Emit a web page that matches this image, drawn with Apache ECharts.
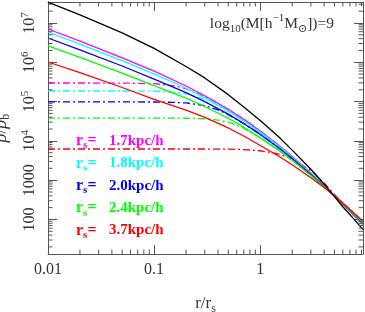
<!DOCTYPE html>
<html><head><meta charset="utf-8">
<script src="https://cdn.jsdelivr.net/npm/echarts@6/dist/echarts.min.js"></script>
<style>html,body{margin:0;padding:0;background:#fff}#c{width:365px;height:312px}</style>
</head><body><div id="c"></div>
<script>
const xMin = 0.01, xMax = 9.3, yMin = 13.2, yMax = 3.42e7;
const xTickValues = [0.01, 0.1, 1];
const xTickLabels = ['0.01', '0.1', '1'];
const yTickValues = [100, 1000, 1e4, 1e5, 1e6, 1e7];
const yTickLabels = ['100', '1000', '10^4', '10^5', '10^6', '10^7'];

const rSolid = [0.01, 0.02, 0.05, 0.1, 0.2, 0.3, 0.5, 0.7, 1, 1.5, 2, 3, 4, 5, 6, 7.5, 9.3];
const rhoBlack   = [3.4e7, 1.61e7, 5.6e6, 2.25e6, 7.8e5, 4.0e5, 1.5e5, 7.3e4, 3.3e4, 1.25e4, 5800, 1900, 800, 380, 210, 108, 55];
const rhoMagenta = [7.03e6, 3.45e6, 1.30e6, 5.93e5, 2.49e5, 1.41e5, 6.37e4, 3.54e4, 1.79e4, 7650, 3980, 1490, 717, 398, 244, 132, 72.7];
const rhoCyan    = [5.90e6, 2.91e6, 1.10e6, 5.05e5, 2.18e5, 1.26e5, 5.78e4, 3.26e4, 1.67e4, 7280, 3830, 1460, 711, 398, 245, 135, 74.3];
const rhoBlue    = [4.15e6, 2.08e6, 8.04e5, 3.74e5, 1.69e5, 1.00e5, 4.80e4, 2.77e4, 1.46e4, 6560, 3550, 1400, 700, 399, 249, 139, 77.8];
const rhoGreen   = [2.60e6, 1.33e6, 5.31e5, 2.53e5, 1.22e5, 7.50e4, 3.75e4, 2.23e4, 1.21e4, 5730, 3200, 1320, 684, 400, 253, 143, 81.5];
const rhoRed     = [1.016e6, 5.42e5, 2.28e5, 1.13e5, 6.04e4, 3.95e4, 2.13e4, 1.33e4, 7640, 4060, 2470, 1150, 647, 402, 261, 152, 89.3];

const rCore = [0.01, 0.05, 0.1, 0.15, 0.2, 0.3, 0.4, 0.5, 0.7, 1, 1.5, 2, 3, 4, 5, 6, 7.5, 9.3];
const coreMagenta = [2.97e5, 2.96e5, 2.855e5, 2.56e5, 2.13e5, 1.363e5, 9.06e4, 6.35e4, 3.54e4, 1.79e4, 7650, 3980, 1490, 717, 398, 244, 132, 72.7];
const coreCyan    = [1.86e5, 1.857e5, 1.83e5, 1.74e5, 1.583e5, 1.152e5, 8.03e4, 5.72e4, 3.25e4, 1.67e4, 7280, 3830, 1460, 711, 398, 245, 135, 74.3];
const coreBlue    = [9.8e4, 9.8e4, 9.74e4, 9.58e4, 9.23e4, 7.85e4, 6.12e4, 4.63e4, 2.75e4, 1.46e4, 6560, 3550, 1400, 700, 399, 249, 139, 77.8];
const coreGreen   = [3.8e4, 3.8e4, 3.8e4, 3.8e4, 3.76e4, 3.65e4, 3.39e4, 3.0e4, 2.10e4, 1.197e4, 5730, 3200, 1320, 684, 400, 253, 143, 81.5];
const coreRed     = [6200, 6200, 6200, 6200, 6200, 6200, 6180, 6150, 6000, 5600, 4600, 3500, 1750, 850, 430, 265, 152, 89.3];

const rsLabels = ['1.7kpc/h', '1.8kpc/h', '2.0kpc/h', '2.4kpc/h', '3.7kpc/h'];
const colors = ['#ff00ff', '#00ffff', '#0000ff', '#00ff00', '#ff0000'];
const solidSets = [rhoMagenta, rhoCyan, rhoBlue, rhoGreen, rhoRed];
const coreSets = [coreMagenta, coreCyan, coreBlue, coreGreen, coreRed];

const SERIF = "'Liberation Serif', 'DejaVu Serif', serif";
const AX = '#555';

function pairs(xs, ys) { return xs.map((x, i) => [x, ys[i]]); }
function matchTick(v, vals) {
  for (let i = 0; i < vals.length; i++) {
    if (Math.abs(Math.log10(v) - Math.log10(vals[i])) < 1e-3) return i;
  }
  return -1;
}

const series = [];
coreSets.forEach((d, i) => {
  series.push({
    type: 'line', data: pairs(rCore, d), showSymbol: false, symbol: 'none',
    smooth: false, silent: true,
    lineStyle: { color: colors[i], width: 1.3, type: [7, 3, 2, 3] }, z: 2
  });
});
solidSets.forEach((d, i) => {
  series.push({
    type: 'line', data: pairs(rSolid, d), showSymbol: false, symbol: 'none',
    smooth: false, silent: true,
    lineStyle: { color: colors[i], width: 1.3 }, z: 3
  });
});
series.push({
  type: 'line', data: pairs(rSolid, rhoBlack), showSymbol: false, symbol: 'none',
  smooth: false, silent: true,
  lineStyle: { color: '#000', width: 1.3 }, z: 4
});

// minor ticks (log decades) drawn through the axes' own scales
const minorData = [];
[-2, -1, 0].forEach(k => { for (let m = 2; m <= 9; m++) { const v = m * Math.pow(10, k); if (v > xMin && v < xMax) minorData.push([v, yMin, 0]); } });
for (let k = 1; k <= 7; k++) for (let m = 2; m <= 9; m++) { const v = m * Math.pow(10, k); if (v > yMin && v < yMax) minorData.push([xMin, v, 1]); }
const ML = 4.5;
series.push({
  type: 'custom', data: minorData, silent: true, clip: false, z: 5,
  encode: { x: 0, y: 1 },
  renderItem: function (params, api) {
    const t = api.value(2);
    const st = { stroke: AX, lineWidth: 1 };
    if (t === 0) {
      const v = api.value(0);
      const a = api.coord([v, yMin]), b = api.coord([v, yMax]);
      return { type: 'group', children: [
        { type: 'line', shape: { x1: a[0], y1: a[1], x2: a[0], y2: a[1] - ML }, style: st },
        { type: 'line', shape: { x1: b[0], y1: b[1], x2: b[0], y2: b[1] + ML }, style: st }
      ] };
    } else {
      const v = api.value(1);
      const a = api.coord([xMin, v]), b = api.coord([xMax, v]);
      return { type: 'group', children: [
        { type: 'line', shape: { x1: a[0], y1: a[1], x2: a[0] + ML, y2: a[1] }, style: st },
        { type: 'line', shape: { x1: b[0], y1: b[1], x2: b[0] - ML, y2: b[1] }, style: st }
      ] };
    }
  }
});

const baseAxis = {
  type: 'log', logBase: 10,
  axisLine: { show: true, lineStyle: { color: AX, width: 1 } },
  axisTick: { show: true, inside: true, length: 9, lineStyle: { color: AX, width: 1 } },
  splitLine: { show: false }, minorTick: { show: false }, minorSplitLine: { show: false }
};

const option = {
  animation: false,
  backgroundColor: '#fff',
  grid: { left: 48, right: 2, top: 2, bottom: 58, containLabel: false, outerBoundsMode: 'none' },
  xAxis: [
    Object.assign({}, baseAxis, {
      position: 'bottom', min: xMin, max: xMax,
      axisLabel: {
        show: true, margin: 8, color: '#333', fontFamily: SERIF, fontSize: 16,
        showMinLabel: true, showMaxLabel: false,
        formatter: function (v) { const i = matchTick(v, xTickValues); return i >= 0 ? xTickLabels[i] : ''; }
      },
      name: '{i|r}{n|/}{i|r}{s|s}', nameLocation: 'middle', nameGap: 39,
      nameTextStyle: { color: '#333', rich: {
        i: { fontFamily: SERIF, fontSize: 17, color: '#333', lineHeight: 22 },
        n: { fontFamily: SERIF, fontSize: 17, color: '#333', lineHeight: 22 },
        s: { fontFamily: SERIF, fontSize: 12, color: '#333', verticalAlign: 'bottom', lineHeight: 12 }
      } }
    }),
    Object.assign({}, baseAxis, { position: 'top', min: xMin, max: xMax, axisLabel: { show: false } })
  ],
  yAxis: [
    Object.assign({}, baseAxis, {
      position: 'left', min: yMin, max: yMax,
      axisLabel: {
        show: true, rotate: 90, margin: 8, color: '#333', fontFamily: SERIF, fontSize: 16,
        showMinLabel: false, showMaxLabel: false,
        formatter: function (v) {
          const i = matchTick(v, yTickValues);
          if (i < 0) return '';
          const t = yTickLabels[i];
          if (t.indexOf('^') >= 0) { const p = t.split('^'); return '{b|' + p[0] + '}{s|' + p[1] + '}'; }
          return '{b|' + t + '}';
        },
        rich: {
          b: { fontFamily: SERIF, fontSize: 16, color: '#333', lineHeight: 20 },
          s: { fontFamily: SERIF, fontSize: 11, color: '#333', verticalAlign: 'top', lineHeight: 11 }
        }
      },
      name: '{i|ρ}{n|/}{i|ρ}{s|b}', nameLocation: 'middle', nameGap: 27, nameRotate: 90,
      nameTextStyle: { color: '#333', rich: {
        i: { fontFamily: SERIF, fontSize: 18, fontStyle: 'italic', color: '#333', lineHeight: 22 },
        n: { fontFamily: SERIF, fontSize: 18, color: '#333', lineHeight: 22 },
        s: { fontFamily: SERIF, fontSize: 12, color: '#333', verticalAlign: 'bottom', lineHeight: 12 }
      } }
    }),
    Object.assign({}, baseAxis, { position: 'right', min: yMin, max: yMax, axisLabel: { show: false } })
  ],
  series: series,
  graphic: []
};

// annotation
option.graphic.push({
  type: 'text', x: 334, y: 24, silent: true, z: 10,
  style: {
    text: '{n|log}{sub|10}{n|(M[h}{sup|−1}{n|M}{sub|⊙}{n|])=9}',
    align: 'right', verticalAlign: 'middle', textAlign: 'right', textVerticalAlign: 'middle',
    fill: '#333', font: '15px ' + SERIF,
    rich: {
      n: { fontFamily: SERIF, fontSize: 15.5, fill: '#333', color: '#333', lineHeight: 22 },
      sub: { fontFamily: SERIF, fontSize: 11, fill: '#333', color: '#333', verticalAlign: 'bottom', lineHeight: 11 },
      sup: { fontFamily: SERIF, fontSize: 11, fill: '#333', color: '#333', verticalAlign: 'top', lineHeight: 11 }
    }
  }
});

// r_s labels
rsLabels.forEach((lab, i) => {
  const yc = 141 + i * 22.4;
  const c = colors[i];
  option.graphic.push({
    type: 'text', x: 76, y: yc, silent: true, z: 10,
    style: {
      text: '{r|r}{s|s}{r|=}',
      align: 'left', verticalAlign: 'middle', textAlign: 'left', textVerticalAlign: 'middle',
      fill: c, font: 'bold 16px ' + SERIF,
      rich: {
        r: { fontFamily: SERIF, fontWeight: 'bold', fontSize: 16, fill: c, color: c, lineHeight: 20 },
        s: { fontFamily: SERIF, fontWeight: 'bold', fontSize: 11, fill: c, color: c, verticalAlign: 'bottom', lineHeight: 11 }
      }
    }
  });
  option.graphic.push({
    type: 'text', x: 109, y: yc, silent: true, z: 10,
    style: {
      text: lab, align: 'left', verticalAlign: 'middle', textAlign: 'left', textVerticalAlign: 'middle',
      fill: c, font: 'bold 15px ' + SERIF
    }
  });
});

const chart = echarts.init(document.getElementById('c'), null, { renderer: 'canvas' });
chart.setOption(option);
</script>
</body></html>
